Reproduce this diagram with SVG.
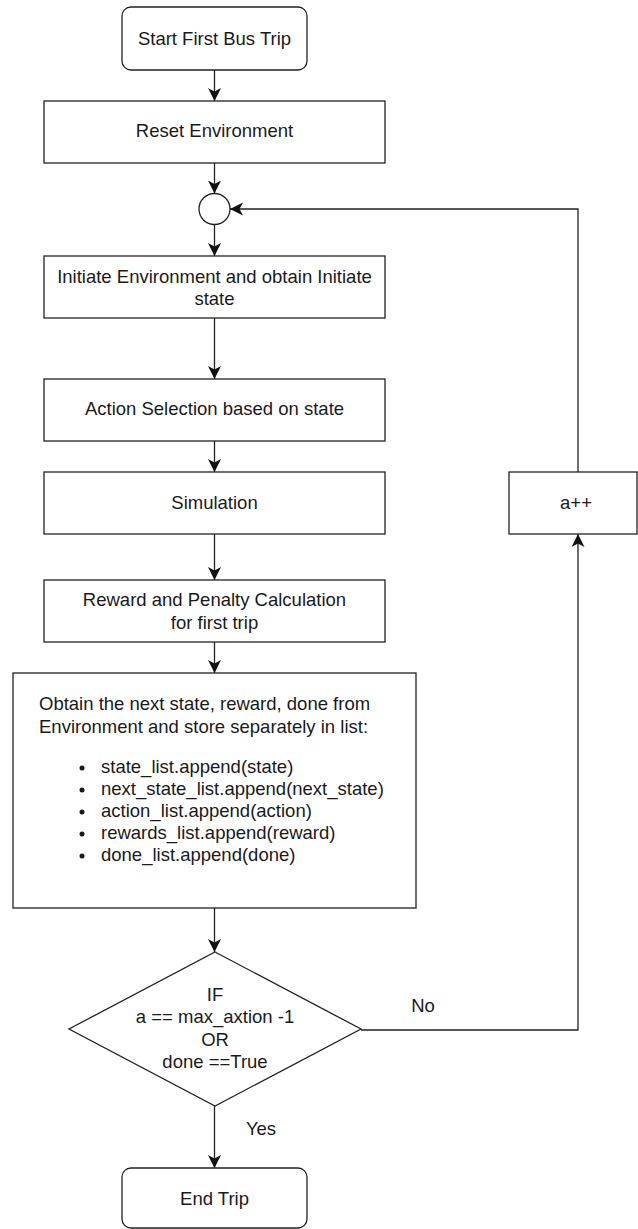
<svg xmlns="http://www.w3.org/2000/svg" width="638" height="1229" viewBox="0 0 638 1229">
  <style>
    .box { fill: #ffffff; stroke: #222222; stroke-width: 1.3; }
    .edge { fill: none; stroke: #222222; stroke-width: 1.3; }
    text { font-family: "Liberation Sans", Arial, sans-serif; font-size: 18.5px; fill: #1a1a1a; }
    .c { text-anchor: middle; }
  </style>
  <defs>
    <marker id="arrow" viewBox="0 0 13 14" refX="13" refY="7" markerWidth="13" markerHeight="14" markerUnits="userSpaceOnUse" orient="auto">
      <path d="M0,0.5 L13,7 L0,13.5 L3.5,7 Z" fill="#111111"/>
    </marker>
  </defs>

  <g id="connectors">
    <path class="edge" d="M214.5,70 V101" marker-end="url(#arrow)"/>
    <path class="edge" d="M214.5,163 V193.5" marker-end="url(#arrow)"/>
    <path class="edge" d="M214.5,224.5 V256" marker-end="url(#arrow)"/>
    <path class="edge" d="M214.5,318 V379" marker-end="url(#arrow)"/>
    <path class="edge" d="M214.5,441 V472" marker-end="url(#arrow)"/>
    <path class="edge" d="M214.5,534 V580" marker-end="url(#arrow)"/>
    <path class="edge" d="M214.5,642 V673" marker-end="url(#arrow)"/>
    <path class="edge" d="M214.5,908 V952" marker-end="url(#arrow)"/>
    <path class="edge" d="M214.5,1106 V1168" marker-end="url(#arrow)"/>
    <path class="edge" d="M361,1030 H578 V534" marker-end="url(#arrow)"/>
    <path class="edge" d="M578,472 V209 H230" marker-end="url(#arrow)"/>
    <text x="423" y="1012" class="c">No</text>
    <text x="261" y="1135" class="c">Yes</text>
  </g>

  <g id="start">
    <rect class="box" x="122" y="7" width="185" height="63" rx="9"/>
    <text x="214.5" y="45" class="c">Start First Bus Trip</text>
  </g>

  <g id="reset">
    <rect class="box" x="44" y="101" width="341" height="62"/>
    <text x="214.5" y="137" class="c">Reset Environment</text>
  </g>

  <g id="merge">
    <circle class="box" cx="214.5" cy="209" r="15.5"/>
  </g>

  <g id="initiate">
    <rect class="box" x="44" y="256" width="341" height="62"/>
    <text x="214.5" y="283" class="c">Initiate Environment and obtain Initiate</text>
    <text x="214.5" y="305" class="c">state</text>
  </g>

  <g id="action">
    <rect class="box" x="44" y="379" width="341" height="62"/>
    <text x="214.5" y="415" class="c">Action Selection based on state</text>
  </g>

  <g id="simulation">
    <rect class="box" x="44" y="472" width="341" height="62"/>
    <text x="214.5" y="509" class="c">Simulation</text>
  </g>

  <g id="reward">
    <rect class="box" x="44" y="580" width="341" height="62"/>
    <text x="214.5" y="606" class="c">Reward and Penalty Calculation</text>
    <text x="214.5" y="629" class="c">for first trip</text>
  </g>

  <g id="store">
    <rect class="box" x="13" y="673" width="403" height="235"/>
    <text x="39" y="710">Obtain the next state, reward, done from</text>
    <text x="39" y="733">Environment and store separately in list:</text>
    <g fill="#1a1a1a">
      <circle cx="82" cy="768" r="2.5"/>
      <circle cx="82" cy="790" r="2.5"/>
      <circle cx="82" cy="812" r="2.5"/>
      <circle cx="82" cy="834" r="2.5"/>
      <circle cx="82" cy="856" r="2.5"/>
    </g>
    <text x="101" y="773">state_list.append(state)</text>
    <text x="101" y="795">next_state_list.append(next_state)</text>
    <text x="101" y="817">action_list.append(action)</text>
    <text x="101" y="839">rewards_list.append(reward)</text>
    <text x="101" y="861">done_list.append(done)</text>
  </g>

  <g id="decision">
    <polygon class="box" points="215,952 361,1029 215,1106 69,1029"/>
    <text x="215" y="1001" class="c">IF</text>
    <text x="215" y="1023" class="c">a == max_axtion -1</text>
    <text x="215" y="1046" class="c">OR</text>
    <text x="215" y="1068" class="c">done ==True</text>
  </g>

  <g id="increment">
    <rect class="box" x="509" y="472" width="128" height="62"/>
    <text x="576" y="509" class="c">a++</text>
  </g>

  <g id="end">
    <rect class="box" x="122" y="1168" width="185" height="60" rx="9"/>
    <text x="214.5" y="1205" class="c">End Trip</text>
  </g>
</svg>
